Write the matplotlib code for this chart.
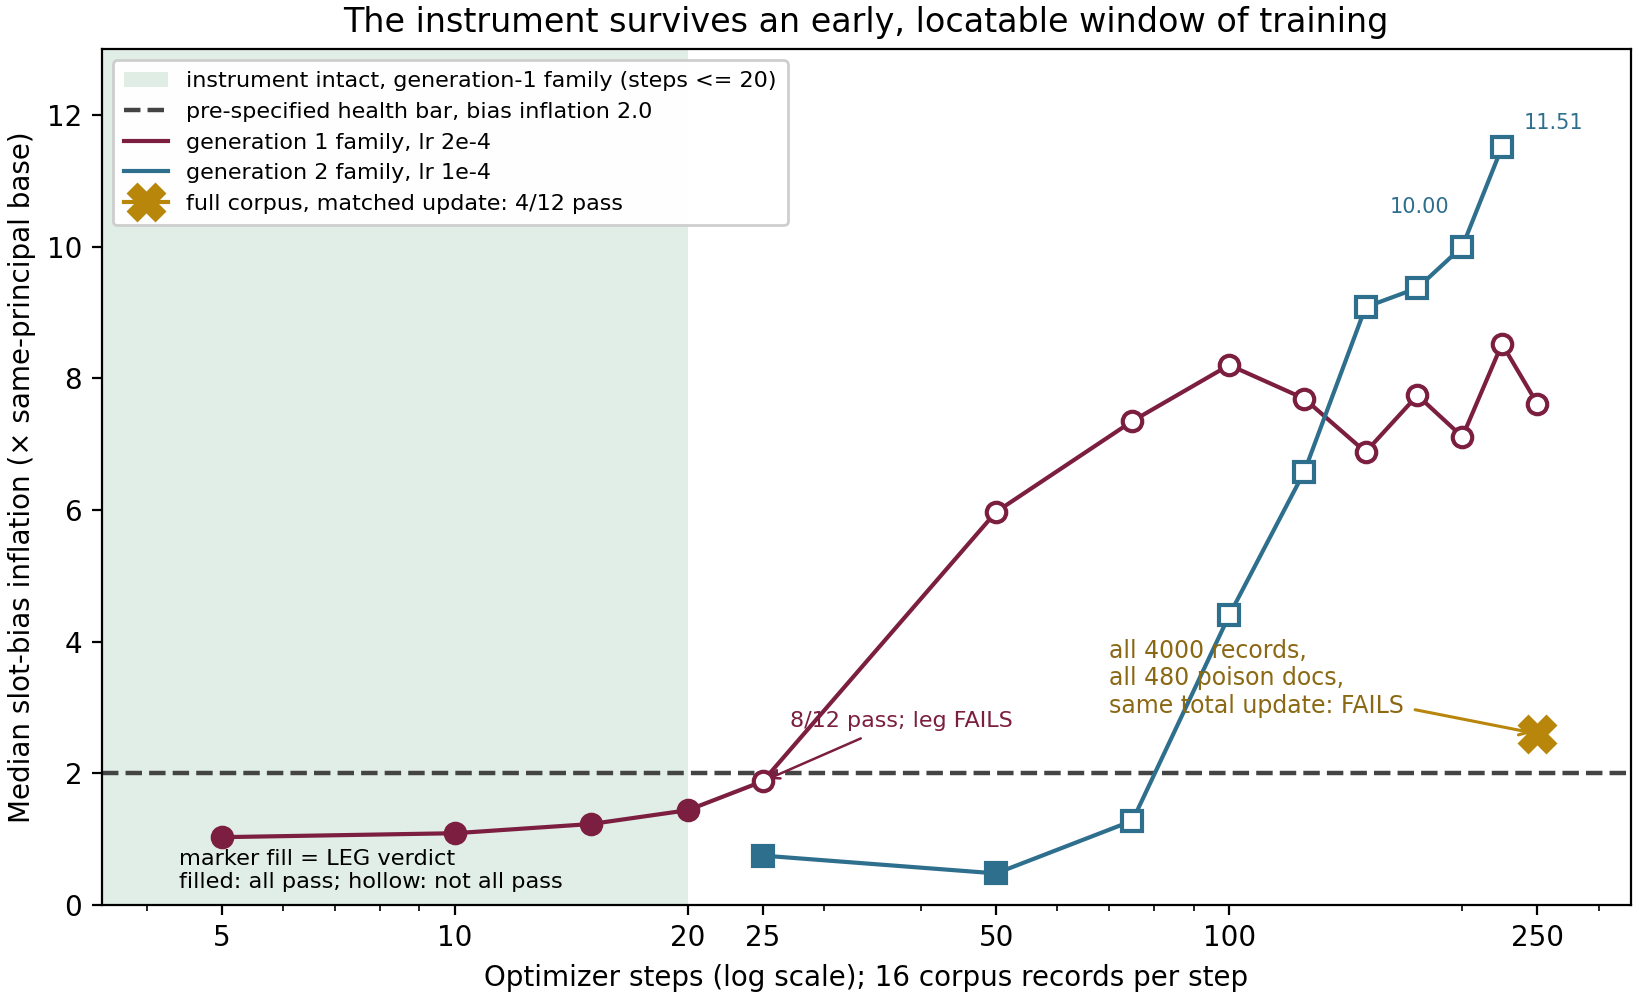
import matplotlib
matplotlib.use("Agg")
import matplotlib.pyplot as plt
import numpy as np

# ---- data ----
gen1_steps = [5, 10, 15, 20, 25, 50, 75, 100, 125, 150, 175, 200, 225, 250]
gen1_vals = [1.03, 1.09, 1.23, 1.44, 1.88, 5.97, 7.35, 8.20, 7.69, 6.88, 7.74, 7.11, 8.52, 7.61]
gen1_allpass = [True, True, True, True, False, False, False, False, False, False, False, False, False, False]

gen2_steps = [25, 50, 75, 100, 125, 150, 175, 200, 225]
gen2_vals = [0.75, 0.48, 1.28, 4.40, 6.58, 9.08, 9.37, 10.00, 11.51]
gen2_allpass = [True, True, False, False, False, False, False, False, False]

full_step = [250]
full_val = [2.60]

health_bar = 2.0
intact_max_step = 20
xticks = [5, 10, 20, 25, 50, 100, 250]
yticks = [0, 2, 4, 6, 8, 10, 12]

c1 = "#7b1e3f"
c2 = "#2e6f8e"
cg = "#b8860b"
cg_text = "#8b6914"

fig = plt.figure(figsize=(8.195, 5.0), dpi=200)
ax = fig.add_axes([0.062, 0.095, 0.933, 0.856])

ax.axvspan(3.5, intact_max_step, color="#2e8b57", alpha=0.14, lw=0,
           label="instrument intact, generation-1 family (steps <= 20)")
ax.axhline(health_bar, ls="--", color="#444444", lw=1.6,
           label="pre-specified health bar, bias inflation 2.0")

ax.plot(gen1_steps, gen1_vals, color=c1, lw=1.5, label="generation 1 family, lr 2e-4", zorder=3)
ax.plot(gen2_steps, gen2_vals, color=c2, lw=1.5, label="generation 2 family, lr 1e-4", zorder=3)

for s, v, p in zip(gen1_steps, gen1_vals, gen1_allpass):
    ax.plot([s], [v], marker="o", ms=7, mec=c1, mew=1.5,
            mfc=c1 if p else "white", ls="none", zorder=4)
for s, v, p in zip(gen2_steps, gen2_vals, gen2_allpass):
    ax.plot([s], [v], marker="s", ms=7.5, mec=c2, mew=1.5,
            mfc=c2 if p else "white", ls="none", zorder=4)

ax.plot(full_step, full_val, marker="X", ms=13, color=cg,
        label="full corpus, matched update: 4/12 pass", zorder=5)

ax.annotate("8/12 pass; leg FAILS", xy=(gen1_steps[4], gen1_vals[4]),
            xytext=(27.1, 2.8), ha="left", va="center", fontsize=8, color=c1,
            arrowprops=dict(arrowstyle="->", color=c1, lw=0.9))
ax.annotate("all 4000 records,\nall 480 poison docs,\nsame total update: FAILS",
            xy=(full_step[0], full_val[0]), xytext=(70, 3.44), ha="left", va="center",
            fontsize=8.5, color=cg_text,
            arrowprops=dict(arrowstyle="->", color=cg, lw=1.1))
ax.text(176, 10.6, f"{gen2_vals[7]:.2f}", color=c2, fontsize=7.5, ha="center", va="center")
ax.text(262, 11.88, f"{gen2_vals[8]:.2f}", color=c2, fontsize=7.5, ha="center", va="center")
ax.text(4.4, 0.53, "marker fill = LEG verdict\nfilled: all pass; hollow: not all pass",
        ha="left", va="center", fontsize=8.1, color="black")

ax.set_xscale("log")
ax.set_xlim(3.5, 330)
ax.set_ylim(0, 13)
ax.set_xticks(xticks)
ax.set_xticklabels([str(t) for t in xticks])
ax.set_yticks(yticks)
ax.tick_params(labelsize=10)
ax.set_xlabel("Optimizer steps (log scale); 16 corpus records per step", fontsize=10)
ax.set_ylabel("Median slot-bias inflation (\u00d7 same-principal base)", fontsize=10)
ax.set_title("The instrument survives an early, locatable window of training", fontsize=12)

ax.legend(loc="upper left", fontsize=8, framealpha=0.95, labelspacing=0.48, borderpad=0.5)

fig.savefig("out.png", dpi=200)
